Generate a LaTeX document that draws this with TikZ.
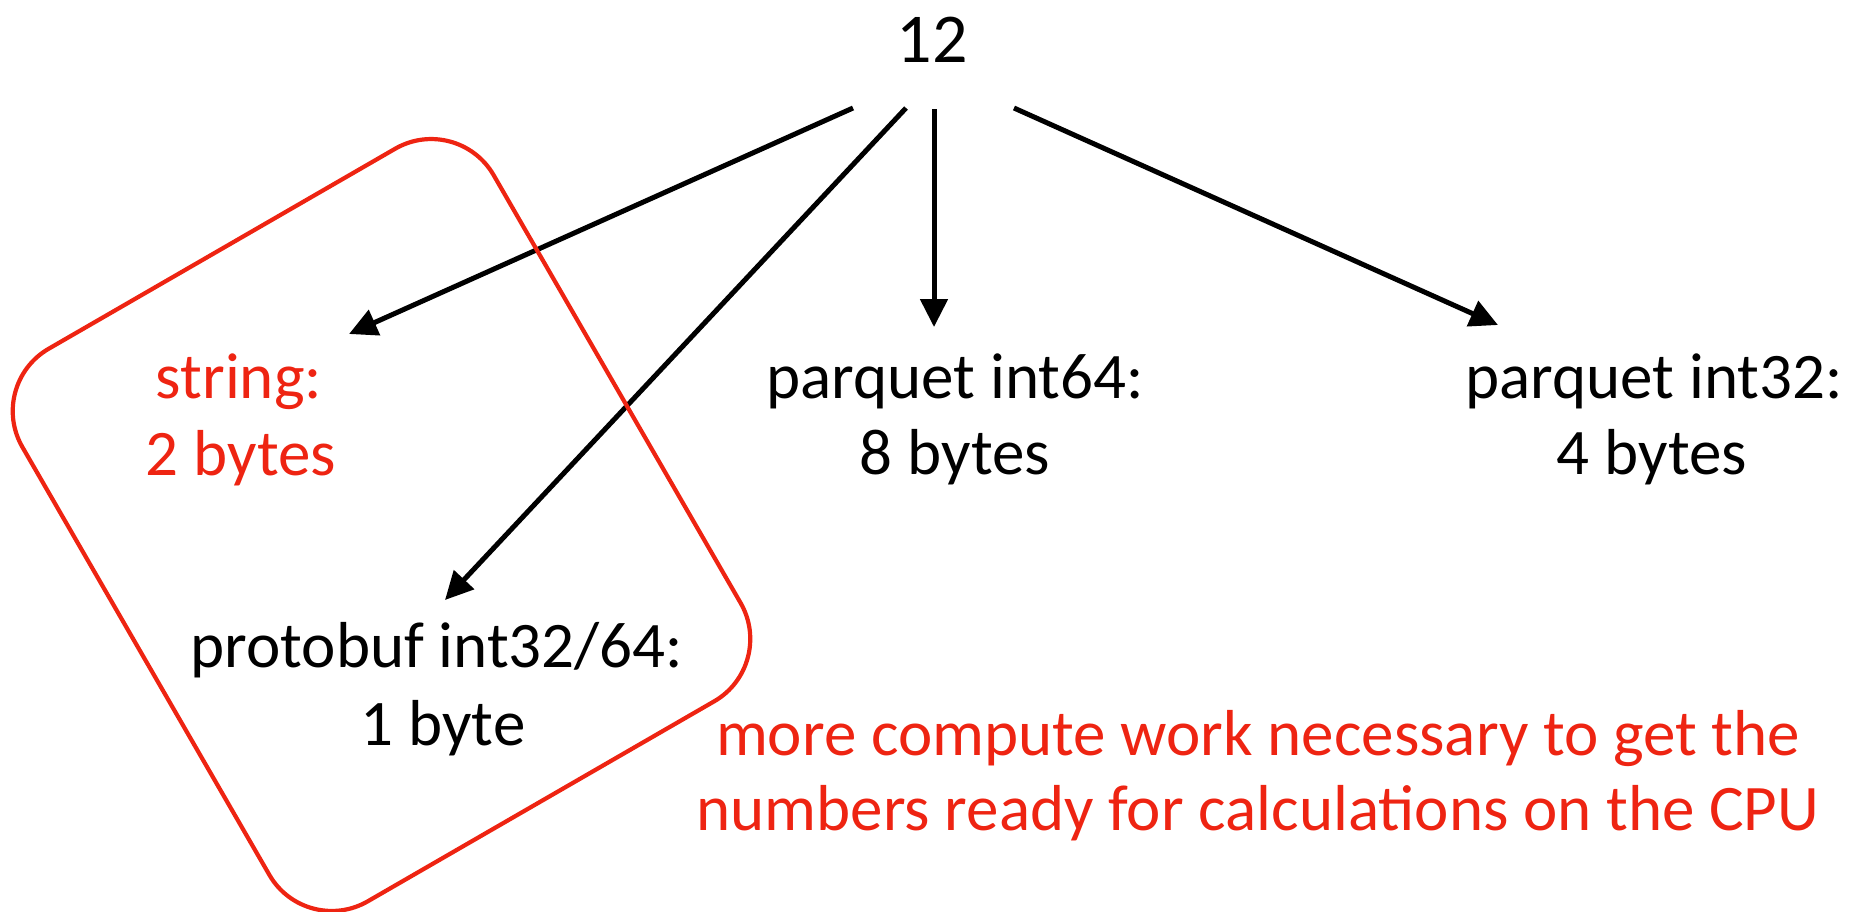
\documentclass[tikz,border=0pt]{standalone}
\usepackage{fontspec}
\setmainfont{Carlito}
\usetikzlibrary{arrows.meta}
\definecolor{kred}{RGB}{238,36,18}
\begin{document}
\begin{tikzpicture}[x=1pt,y=-1pt,
  lbl/.style={inner sep=0pt, anchor=base, font=\fontsize{65}{77}\selectfont},
  redlbl/.style={lbl, text=kred},
  arr/.style={line width=5pt, draw=black, -{Triangle[length=28pt,width=27pt]}},
  redbox/.style={draw=kred, line width=4.2pt, rounded corners=72pt}]
\useasboundingbox (0,0) rectangle (1855,911);
% top number
\node[lbl, font=\fontsize{70}{77}\selectfont] (n12) at (932,62) {12};
% targets
\node[redlbl] (str1) at (239,398) {string:};
\node[redlbl] (str2) at (241,475) {2 bytes};
\node[lbl] (p64a) at (955,398) {parquet int64:};
\node[lbl] (p64b) at (955,474) {8 bytes};
\node[lbl] (p32a) at (1654,398) {parquet int32:};
\node[lbl] (p32b) at (1652,474) {4 bytes};
\node[lbl] (pb1) at (437,667) {protobuf int32/64:};
\node[lbl] (pb2) at (443,745) {1 byte};
\node[redlbl] (note1) at (1258,755) {more compute work necessary to get the};
\node[redlbl] (note2) at (1258,830) {numbers ready for calculations on the CPU};
% arrow end points
\coordinate (s1) at (853,108); \coordinate (t1) at (349,334);
\coordinate (s2) at (906,108); \coordinate (t2) at (445,600);
\coordinate (s3) at (934,109); \coordinate (t3) at (934,327);
\coordinate (s4) at (1014,108); \coordinate (t4) at (1498,325);
\draw[arr] (s1) -- (t1);
\draw[arr] (s2) -- (t2);
\draw[arr] (s3) -- (t3);
\draw[arr] (s4) -- (t4);
% red rounded rotated box
\coordinate (bT) at (457.6,112.7);
\coordinate (bR) at (776.6,665.3);
\coordinate (bB) at (305.4,937.3);
\coordinate (bL) at (-13.6,384.7);
\draw[redbox] (bL) -- (bT) -- (bR) -- (bB) -- cycle;
\end{tikzpicture}
\end{document}
